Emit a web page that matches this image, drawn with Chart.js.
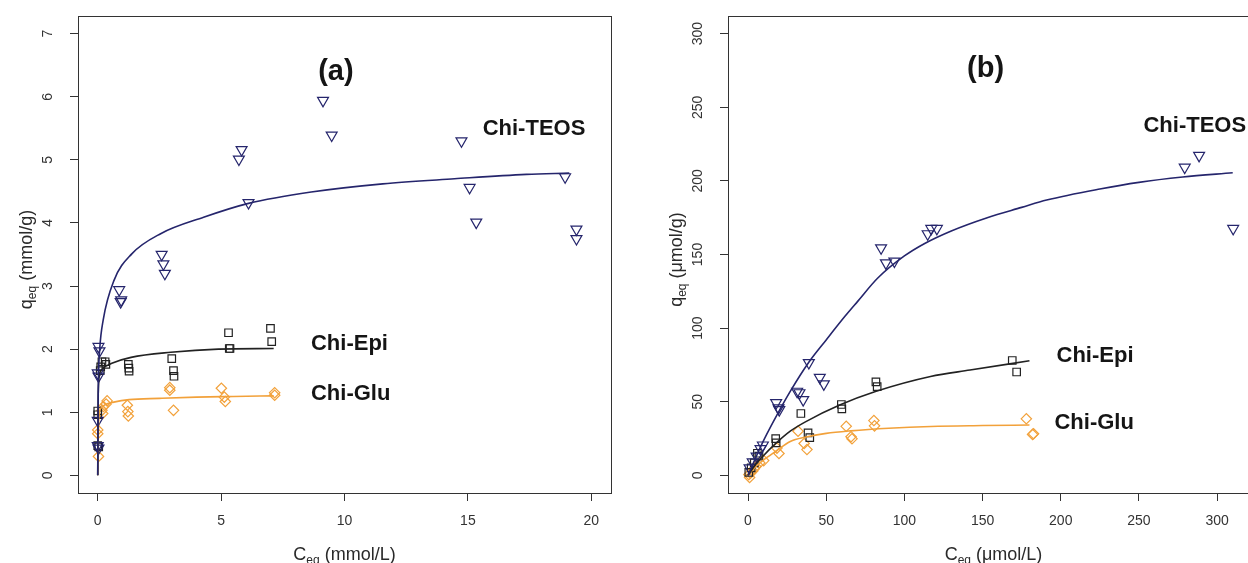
<!DOCTYPE html>
<html>
<head>
<meta charset="utf-8">
<script src="https://cdn.jsdelivr.net/npm/chart.js@4.4.0/dist/chart.umd.min.js"></script>
<style>
  html, body { margin: 0; padding: 0; background: #fff; overflow: hidden; }
  #wrap { position: relative; width: 1248px; height: 563px; overflow: hidden; }
  .panel { position: absolute; top: 0; }
  #pa { left: 0; width: 620px; height: 563px; }
  #pb { left: 640px; width: 640px; height: 563px; }
</style>
</head>
<body>
<div id="wrap">
  <div class="panel" id="pa"><canvas id="chart-a" width="620" height="563"></canvas></div>
  <div class="panel" id="pb"><canvas id="chart-b" width="640" height="563"></canvas></div>
</div>
<script>
// ─── Panel (a): mmol/L vs mmol/g ───────────────────────────────────────────
const teosA_x = [9.13, 9.48, 14.74, 5.83, 5.72, 6.11, 18.94, 15.07, 15.34, 19.40, 19.40, 2.59, 2.66, 2.72, 0.87, 0.95, 0.93, 0.03, 0.07, 0.00, 0.03, 0.00, 0.00, 0.03];
const teosA_y = [5.94, 5.39, 5.30, 5.16, 5.01, 4.32, 4.73, 4.56, 4.01, 3.90, 3.75, 3.50, 3.35, 3.20, 2.94, 2.78, 2.75, 2.04, 1.97, 1.62, 1.57, 0.87, 0.47, 0.43];
const epiA_x = [7.00, 7.05, 5.30, 5.36, 5.33, 3.00, 3.07, 3.09, 1.24, 1.26, 1.27, 0.30, 0.33, 0.17, 0.12, 0.10, 0.00, 0.00, 0.00, 0.04];
const epiA_y = [2.33, 2.12, 2.26, 2.01, 2.01, 1.85, 1.66, 1.57, 1.76, 1.70, 1.65, 1.80, 1.76, 1.80, 1.72, 1.66, 1.02, 0.96, 0.47, 0.45];
const gluA_x = [5.01, 5.13, 5.17, 2.92, 2.92, 3.07, 1.20, 1.22, 1.24, 7.17, 7.17, 0.38, 0.34, 0.23, 0.17, 0.20, 0.00, 0.00, 0.03];
const gluA_y = [1.38, 1.24, 1.17, 1.39, 1.35, 1.03, 1.11, 1.01, 0.94, 1.31, 1.27, 1.18, 1.13, 1.09, 1.03, 0.98, 0.72, 0.66, 0.30];

// fitted curves
const teosFitA_x = [0, 0.01, 0.03, 0.08, 0.22, 0.66, 1.38, 2.55, 4.29, 6.11, 8.65, 11.55, 14.46, 17.37, 19.11];
const teosFitA_y = [0, 0.90, 1.55, 2.00, 2.46, 3.09, 3.51, 3.83, 4.09, 4.31, 4.49, 4.62, 4.70, 4.77, 4.79];
const epiFitA_x = [0, 0.02, 0.08, 0.23, 0.60, 1.35, 2.96, 4.89, 7.13];
const epiFitA_y = [0, 1.30, 1.62, 1.70, 1.78, 1.87, 1.95, 2.00, 2.01];
const gluFitA_x = [0, 0.02, 0.05, 0.15, 0.30, 0.65, 1.27, 2.50, 4.00, 5.50, 7.13];
const gluFitA_y = [0, 0.60, 0.95, 1.07, 1.12, 1.16, 1.20, 1.22, 1.24, 1.25, 1.26];

const xTicksA = [0, 5, 10, 15, 20];
const xTickLabelsA = ['0', '5', '10', '15', '20'];
const yTicksA = [0, 1, 2, 3, 4, 5, 6, 7];
const yTickLabelsA = ['0', '1', '2', '3', '4', '5', '6', '7'];

// ─── Panel (b): µmol/L vs µmol/g ───────────────────────────────────────────
const teosB_x = [288.5, 279.3, 310.3, 120.8, 117.2, 114.9, 85.1, 88.2, 93.6, 38.9, 45.9, 48.5, 31.4, 32.9, 35.3, 18.0, 19.5, 20.0, 9.5, 8.0, 5.5, 3.0, 1.0];
const teosB_y = [217.2, 209.2, 167.6, 167.6, 167.6, 164.0, 154.4, 144.2, 145.4, 76.5, 66.5, 62.0, 57.0, 56.0, 51.3, 49.3, 45.7, 44.5, 20.5, 18.0, 13.0, 9.0, 5.0];
const epiB_x = [169.0, 171.8, 81.8, 82.6, 59.7, 60.0, 33.8, 38.4, 39.5, 17.7, 18.0, 6.0, 7.0, 4.0, 2.0, 0.5];
const epiB_y = [78.0, 70.2, 63.5, 60.2, 48.1, 45.2, 42.0, 28.8, 25.6, 25.0, 22.0, 15.0, 13.0, 8.5, 5.0, 2.0];
const gluB_x = [178.0, 182.6, 182.0, 80.5, 80.9, 62.8, 65.9, 66.5, 32.0, 35.9, 37.7, 18.5, 19.8, 10.0, 7.5, 5.0, 4.0, 3.0, 1.5, 0.5, 1.0];
const gluB_y = [38.4, 28.2, 27.8, 37.2, 33.6, 33.3, 26.2, 24.8, 30.0, 21.6, 17.5, 18.5, 14.8, 10.0, 8.5, 6.0, 4.5, 3.0, 1.5, 0.5, -1.5];

const teosFitB_x = [0, 9, 17, 27, 39, 50, 62, 70, 83, 100, 113, 130, 153, 175, 191, 225, 250, 278, 310];
const teosFitB_y = [0, 21.5, 38, 57, 77, 92, 108, 118, 134, 149, 157.5, 166, 175, 182, 187, 194.5, 199, 202.6, 205.5];
const epiFitB_x = [0, 5, 10, 17.6, 27, 37, 59, 81.5, 116.7, 142, 180];
const epiFitB_y = [0, 7.5, 13.5, 21.5, 30, 36.5, 47.9, 56.9, 67.1, 71.5, 77.8];
const gluFitB_x = [0, 5, 10, 17.6, 27, 37, 50, 65.5, 90, 117, 150, 180];
const gluFitB_y = [0, 6, 10.5, 16.2, 23, 26, 28.5, 30.2, 32, 33.2, 33.8, 34.2];

const xTicksB = [0, 50, 100, 150, 200, 250, 300];
const xTickLabelsB = ['0', '50', '100', '150', '200', '250', '300'];
const yTicksB = [0, 50, 100, 150, 200, 250, 300];
const yTickLabelsB = ['0', '50', '100', '150', '200', '250', '300'];

// ─── Styling ───────────────────────────────────────────────────────────────
const NAVY = '#25256c';
const BLACK = '#222222';
const ORANGE = '#f2a13a';
const AXIS = '#333333';
const FONT = '"Liberation Sans", Arial, Helvetica, sans-serif';

function pts(xs, ys) { return xs.map((x, i) => ({ x, y: ys[i] })); }

function markerSet(label, xs, ys, color, style, radius, rotation) {
  return {
    label, data: pts(xs, ys), showLine: false,
    borderColor: color, backgroundColor: 'rgba(0,0,0,0)',
    pointStyle: style, pointRadius: radius, pointRotation: rotation || 0,
    pointBorderWidth: 1.2, pointBackgroundColor: 'rgba(0,0,0,0)', pointBorderColor: color,
  };
}

function curveSet(label, xs, ys, color) {
  return {
    label, data: pts(xs, ys), showLine: true, borderColor: color, borderWidth: 1.6,
    pointRadius: 0, cubicInterpolationMode: 'monotone', fill: false,
  };
}

function xScale(min, max, ticks, labels) {
  return {
    type: 'linear', min, max,
    afterBuildTicks: s => { s.ticks = ticks.map(v => ({ value: v })); },
    afterFit: s => { s.height = 70; },
    grid: { drawOnChartArea: false, drawTicks: true, tickLength: 8, color: AXIS, lineWidth: 1 },
    border: { display: false },
    ticks: { color: AXIS, font: { family: FONT, size: 14 }, padding: 12, maxRotation: 0, autoSkip: false,
      callback: (v, i) => labels[i] },
  };
}

function yScale(min, max, ticks, width) {
  return {
    type: 'linear', min, max,
    afterBuildTicks: s => { s.ticks = ticks.map(v => ({ value: v })); },
    afterFit: s => { s.width = width; },
    grid: { drawOnChartArea: false, drawTicks: true, tickLength: 8, color: AXIS, lineWidth: 1 },
    border: { display: false },
    ticks: { display: false },
  };
}

// text with a lowered subscript, e.g. C_eq (mmol/L)
function drawSubText(ctx, cx, base, main, sub, rest) {
  const big = `18px ${FONT}`, small = `12px ${FONT}`;
  ctx.font = big; const w1 = ctx.measureText(main).width; const w3 = ctx.measureText(rest).width;
  ctx.font = small; const w2 = ctx.measureText(sub).width;
  let x = cx - (w1 + w2 + w3) / 2;
  ctx.textAlign = 'left'; ctx.textBaseline = 'alphabetic';
  ctx.font = big; ctx.fillText(main, x, base); x += w1;
  ctx.font = small; ctx.fillText(sub, x, base + 4); x += w2;
  ctx.font = big; ctx.fillText(rest, x, base);
}

const rFrame = {
  id: 'rFrame',
  afterDraw(chart, args, o) {
    const { ctx, chartArea: a } = chart;
    const sx = chart.scales.x, sy = chart.scales.y;
    ctx.save();
    // box round the plot region
    ctx.strokeStyle = AXIS; ctx.lineWidth = 1;
    ctx.strokeRect(Math.round(a.left) + 0.5, Math.round(a.top) + 0.5, Math.round(a.right - a.left), Math.round(a.bottom - a.top));
    // y tick labels, parallel to the axis
    ctx.fillStyle = AXIS; ctx.font = `14px ${FONT}`;
    ctx.textAlign = 'center'; ctx.textBaseline = 'middle';
    o.yTicks.forEach((v, i) => {
      ctx.save();
      ctx.translate(a.left - 30, sy.getPixelForValue(v));
      ctx.rotate(-Math.PI / 2);
      ctx.fillText(o.yLabels[i], 0, 0);
      ctx.restore();
    });
    // axis titles
    ctx.fillStyle = '#2a2a2a';
    drawSubText(ctx, (a.left + a.right) / 2, 560, o.xTitle[0], o.xTitle[1], o.xTitle[2]);
    ctx.save();
    ctx.translate(a.left - 46, (a.top + a.bottom) / 2 + 5);
    ctx.rotate(-Math.PI / 2);
    drawSubText(ctx, 0, 0, o.yTitle[0], o.yTitle[1], o.yTitle[2]);
    ctx.restore();
    // in-plot labels
    ctx.fillStyle = '#151515';
    o.notes.forEach(n => {
      ctx.font = `bold ${n.size}px ${FONT}`;
      ctx.textAlign = n.align; ctx.textBaseline = n.baseline;
      ctx.fillText(n.text, sx.getPixelForValue(n.x), sy.getPixelForValue(n.y));
    });
    ctx.restore();
  }
};

function makeChart(id, cfg) {
  return new Chart(document.getElementById(id), {
    type: 'scatter',
    data: { datasets: cfg.datasets },
    options: {
      responsive: false, animation: false, events: [],
      layout: { padding: { top: 16, right: cfg.padRight, left: 0, bottom: 0 } },
      plugins: { legend: { display: false }, tooltip: { enabled: false }, rFrame: cfg.frame },
      scales: { x: cfg.x, y: cfg.y },
    },
    plugins: [rFrame],
  });
}

// ─── Panel (a) ─────────────────────────────────────────────────────────────
makeChart('chart-a', {
  padRight: 9,
  datasets: [
    curveSet('Chi-TEOS fit', teosFitA_x, teosFitA_y, NAVY),
    curveSet('Chi-Epi fit', epiFitA_x, epiFitA_y, BLACK),
    curveSet('Chi-Glu fit', gluFitA_x, gluFitA_y, ORANGE),
    markerSet('Chi-TEOS', teosA_x, teosA_y, NAVY, 'triangle', 6.3, 180),
    markerSet('Chi-Epi', epiA_x, epiA_y, BLACK, 'rect', 5.3),
    markerSet('Chi-Glu', gluA_x, gluA_y, ORANGE, 'rectRot', 5.2),
  ],
  x: xScale(-0.8, 20.8, xTicksA, xTickLabelsA),
  y: yScale(-0.28, 7.28, yTicksA, 78),
  frame: {
    yTicks: yTicksA, yLabels: yTickLabelsA,
    xTitle: ['C', 'eq', ' (mmol/L)'], yTitle: ['q', 'eq', ' (mmol/g)'],
    notes: [
      { text: '(a)', x: 9.65, y: 6.39, size: 29, align: 'center', baseline: 'middle' },
      { text: 'Chi-TEOS', x: 15.6, y: 5.39, size: 22, align: 'left', baseline: 'alphabetic' },
      { text: 'Chi-Epi', x: 8.64, y: 1.98, size: 22, align: 'left', baseline: 'alphabetic' },
      { text: 'Chi-Glu', x: 8.64, y: 1.19, size: 22, align: 'left', baseline: 'alphabetic' },
    ],
  },
});

// ─── Panel (b) ─────────────────────────────────────────────────────────────
makeChart('chart-b', {
  padRight: 21,
  datasets: [
    curveSet('Chi-TEOS fit', teosFitB_x, teosFitB_y, NAVY),
    curveSet('Chi-Epi fit', epiFitB_x, epiFitB_y, BLACK),
    curveSet('Chi-Glu fit', gluFitB_x, gluFitB_y, ORANGE),
    markerSet('Chi-TEOS', teosB_x, teosB_y, NAVY, 'triangle', 6.3, 180),
    markerSet('Chi-Epi', epiB_x, epiB_y, BLACK, 'rect', 5.3),
    markerSet('Chi-Glu', gluB_x, gluB_y, ORANGE, 'rectRot', 5.2),
  ],
  x: xScale(-12.8, 326.8, xTicksB, xTickLabelsB),
  y: yScale(-12, 312, yTicksB, 88),
  frame: {
    yTicks: yTicksB, yLabels: yTickLabelsB,
    xTitle: ['C', 'eq', ' (\u03bcmol/L)'], yTitle: ['q', 'eq', ' (\u03bcmol/g)'],
    notes: [
      { text: '(b)', x: 151.9, y: 276.2, size: 29, align: 'center', baseline: 'middle' },
      { text: 'Chi-TEOS', x: 252.9, y: 233.4, size: 22, align: 'left', baseline: 'alphabetic' },
      { text: 'Chi-Epi', x: 197.3, y: 77.1, size: 22, align: 'left', baseline: 'alphabetic' },
      { text: 'Chi-Glu', x: 196.0, y: 31.6, size: 22, align: 'left', baseline: 'alphabetic' },
    ],
  },
});
</script>
</body>
</html>
